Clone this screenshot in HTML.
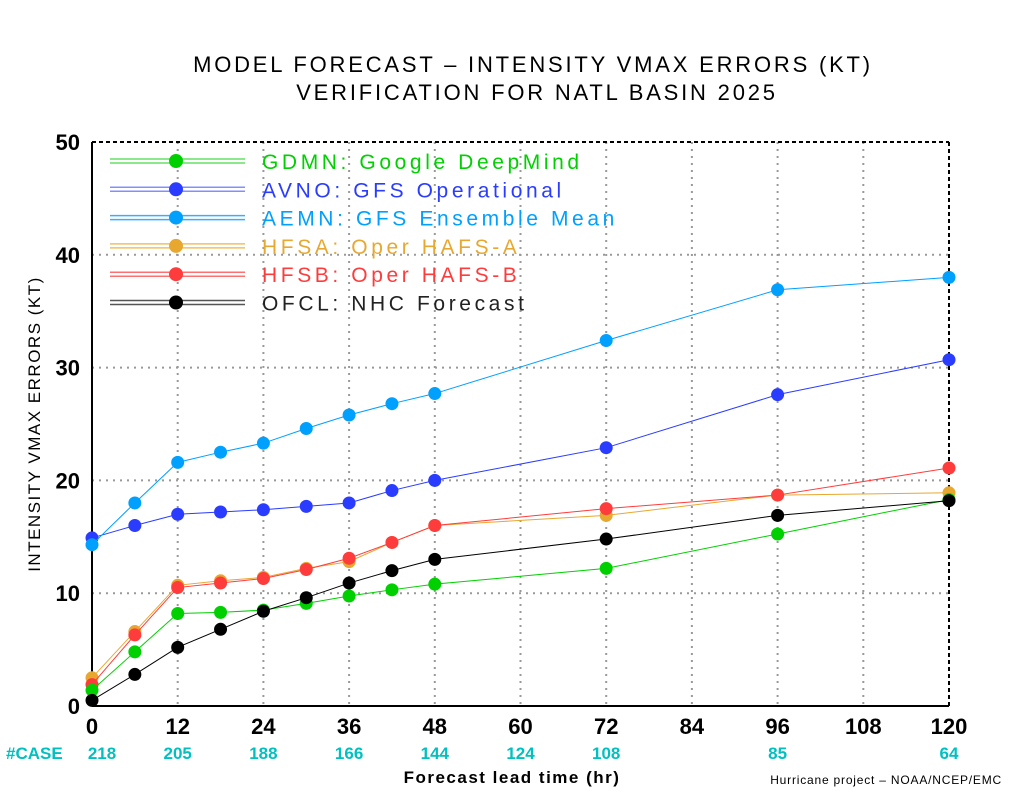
<!DOCTYPE html>
<html><head><meta charset="utf-8"><style>
body{margin:0;background:#fff;width:1024px;height:800px;overflow:hidden}
svg text{font-family:"Liberation Sans",sans-serif}
</style></head><body>
<svg id="c" width="1024" height="800">
<text x="533" y="72" text-anchor="middle" font-size="22" letter-spacing="2.8">MODEL FORECAST – INTENSITY VMAX ERRORS (KT)</text>
<text x="537" y="100" text-anchor="middle" font-size="22" letter-spacing="2.8">VERIFICATION FOR NATL BASIN 2025</text>
<text transform="translate(40,424) rotate(-90)" text-anchor="middle" font-size="17" letter-spacing="1.5">INTENSITY VMAX ERRORS (KT)</text>
<text x="512" y="783" text-anchor="middle" font-size="17" font-weight="bold" letter-spacing="1.5">Forecast lead time (hr)</text>
<text x="1002" y="784" text-anchor="end" font-size="12" letter-spacing="0.8">Hurricane project – NOAA/NCEP/EMC</text>
<text x="6" y="759" font-size="17" font-weight="bold" fill="#00c0c0">#CASE</text>
<g id="grid"></g><g id="series"></g><g id="legend"></g>
</svg>
<script>
const leads=[0,6,12,18,24,30,36,42,48,72,96,120];
const gdmn=[1.4,4.8,8.2,8.3,8.5,9.1,9.75,10.3,10.8,12.2,15.25,18.3];
const avno=[14.9,16,17,17.2,17.4,17.7,18,19.1,20,22.9,27.6,30.7];
const aemn=[14.3,18,21.6,22.5,23.3,24.6,25.8,26.8,27.7,32.4,36.9,38.0];
const hfsa=[2.5,6.6,10.7,11.1,11.4,12.2,12.8,14.5,16,16.9,18.7,18.9];
const hfsb=[1.9,6.3,10.5,10.9,11.3,12.1,13.1,14.5,16,17.5,18.7,21.1];
const ofcl=[0.5,2.8,5.2,6.8,8.4,9.6,10.9,12,13,14.8,16.9,18.2];
const xTicks=[0,12,24,36,48,60,72,84,96,108,120];
const yTicks=[0,10,20,30,40,50];
const caseHours=[0,12,24,36,48,60,72,96,120];
const caseCounts=[218,205,188,166,144,124,108,85,64];
const seriesNames=["GDMN: Google DeepMind","AVNO: GFS Operational","AEMN: GFS Ensemble Mean","HFSA: Oper HAFS-A","HFSB: Oper HAFS-B","OFCL: NHC Forecast"];
const NS="http://www.w3.org/2000/svg";
const X=h=>92+h*(857/120), Y=v=>706-v*(564/50);
function mk(t,a,p){const e=document.createElementNS(NS,t);for(const k in a)e.setAttribute(k,a[k]);p.appendChild(e);return e;}
const g=document.getElementById('grid');
xTicks.forEach(t=>{
 if(t>0&&t<120){const l=mk('line',{x1:X(t),x2:X(t),y1:142,y2:706,stroke:'#999','stroke-width':2,'stroke-dasharray':'2,5'},g);
 
 }
 const tx=mk('text',{x:X(t),y:734,'text-anchor':'middle','font-size':22,'font-weight':'bold'},g);tx.textContent=t;
 
 
});
yTicks.forEach(t=>{
 if(t>0&&t<50){const l=mk('line',{x1:92,x2:949,y1:Y(t),y2:Y(t),stroke:'#999','stroke-width':2,'stroke-dasharray':'2,5'},g);
 
 }
 const tx=mk('text',{x:80,y:Y(t)+8,'text-anchor':'end','font-size':22,'font-weight':'bold'},g);tx.textContent=t;
 
 
});
caseHours.forEach((h,i)=>{const tx=mk('text',{x:X(h)+(i==0?10:0),y:759,'text-anchor':'middle','font-size':17,'font-weight':'bold',fill:'#00c0c0'},g);tx.textContent=caseCounts[i];
 
 });
mk('line',{x1:92,x2:949,y1:142,y2:142,stroke:'#000','stroke-width':2,'stroke-dasharray':'4,3'},g);
mk('line',{x1:949,x2:949,y1:142,y2:706,stroke:'#000','stroke-width':2,'stroke-dasharray':'4,3'},g);
mk('line',{x1:92,x2:92,y1:142,y2:706,stroke:'#000','stroke-width':2},g);
mk('line',{x1:92,x2:949,y1:706,y2:706,stroke:'#000','stroke-width':2},g);
const data=[gdmn,avno,aemn,hfsa,hfsb,ofcl];
const cols=['#00d000','#2a3cff','#00a0ff','#e8a830','#ff3c3c','#000'];
const lcols=['#66e066','#8090ff','#33b0ff','#f0c060','#ff7070','#555'];
const sg=document.getElementById('series'),lg=document.getElementById('legend');
[3,4,0,1,2,5].forEach(si=>{
 const d=data[si];
 const pl=mk('polyline',{points:leads.map((h,i)=>X(h)+','+Y(d[i])).join(' '),fill:'none',stroke:cols[si],'stroke-width':1},sg);
 
 
 leads.forEach((h,i)=>{const c=mk('circle',{cx:X(h),cy:Y(d[i]),r:6.5,fill:cols[si]},sg);
 
 });
});
seriesNames.forEach((n,i)=>{
 const y=161+i*28.3;
 mk('line',{x1:110,x2:245,y1:y-2,y2:y-2,stroke:lcols[i],'stroke-width':1.5},lg);
 mk('line',{x1:110,x2:245,y1:y+2,y2:y+2,stroke:lcols[i],'stroke-width':1.5},lg);
 const c=mk('circle',{cx:176,cy:y,r:7,fill:cols[i]},lg);
 
 
 const t=mk('text',{x:262,y:y+8,'font-size':21,fill:cols[i]=='#000'?'#222':cols[i],'letter-spacing':3.6},lg);t.textContent=n;
 
 
});
</script>
</body></html>
